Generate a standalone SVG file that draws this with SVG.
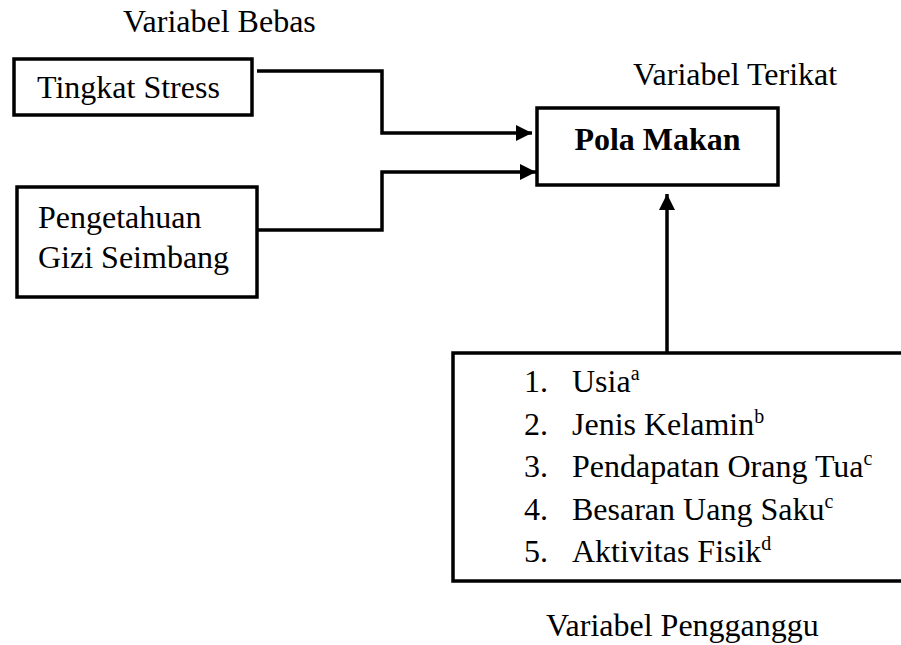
<svg xmlns="http://www.w3.org/2000/svg" width="901" height="645" viewBox="0 0 901 645">
<style>
  .box { fill: #fff; stroke: #000; stroke-width: 3.5; }
  text { font-family: 'Liberation Serif', 'Times New Roman', serif; font-size: 32px; fill: #000; }
  .b { font-weight: bold; }
  .sup { font-size: 20px; }
  .conn { fill: none; stroke: #000; stroke-width: 3.5; }
</style>
<defs>
  <marker id="arr" markerUnits="userSpaceOnUse" markerWidth="18" markerHeight="18" refX="16" refY="8" orient="auto">
    <path d="M0,0 L16,8 L0,16 Z" fill="#000"/>
  </marker>
</defs>
<rect width="901" height="645" fill="#fff"/>

<text x="123" y="32">Variabel Bebas</text>
<text x="633" y="85">Variabel Terikat</text>
<text x="546" y="636">Variabel Pengganggu</text>

<g id="connectors">
  <path class="conn" d="M257,71 H382 V133 H532" marker-end="url(#arr)"/>
  <path class="conn" d="M258,230 H382 V172 H536" marker-end="url(#arr)"/>
  <path class="conn" d="M667,353 V194" marker-end="url(#arr)"/>
</g>

<g id="tingkat-stress">
  <rect class="box" x="14" y="59" width="238" height="56"/>
  <text x="37" y="98">Tingkat Stress</text>
</g>

<g id="pengetahuan">
  <rect class="box" x="17" y="187" width="240" height="110"/>
  <text x="38" y="228">Pengetahuan</text>
  <text x="38" y="268">Gizi Seimbang</text>
</g>

<g id="pola-makan">
  <rect class="box" x="537" y="108" width="241" height="77"/>
  <text class="b" x="657.5" y="150" text-anchor="middle">Pola Makan</text>
</g>

<g id="pengganggu">
  <rect class="box" x="453" y="353" width="470" height="228"/>
  <text x="524" y="392">1.</text>
  <text x="572" y="392">Usia<tspan class="sup" dy="-12">a</tspan></text>
  <text x="524" y="434.5">2.</text>
  <text x="572" y="434.5">Jenis Kelamin<tspan class="sup" dy="-12">b</tspan></text>
  <text x="524" y="477">3.</text>
  <text x="572" y="477">Pendapatan Orang Tua<tspan class="sup" dy="-12">c</tspan></text>
  <text x="524" y="519.5">4.</text>
  <text x="572" y="519.5">Besaran Uang Saku<tspan class="sup" dy="-12">c</tspan></text>
  <text x="524" y="562">5.</text>
  <text x="572" y="562">Aktivitas Fisik<tspan class="sup" dy="-12">d</tspan></text>
</g>
</svg>
